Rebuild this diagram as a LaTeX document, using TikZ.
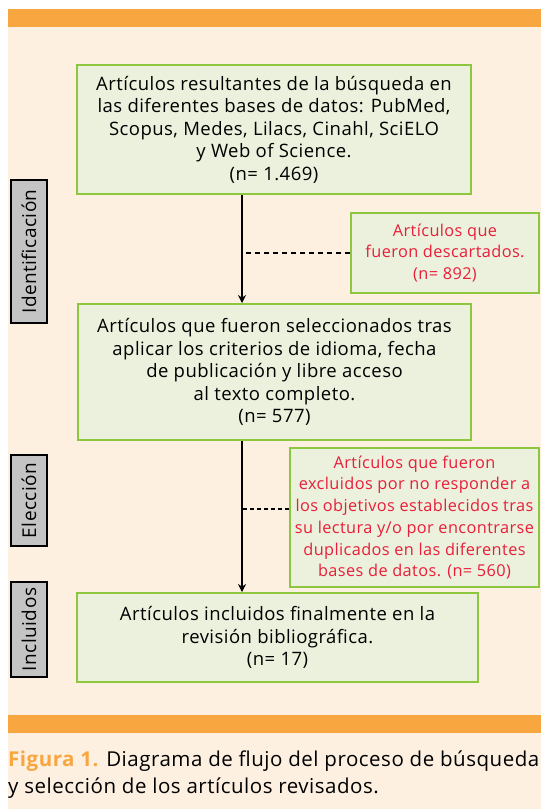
\documentclass[tikz,border=0pt]{standalone}
\usepackage{fontspec}
\setmainfont[LetterSpace=2.5]{Open Sans}
\usetikzlibrary{arrows.meta}

\definecolor{barorange}{RGB}{248,166,64}
\definecolor{panelcream}{RGB}{253,240,225}
\definecolor{boxgreen}{RGB}{141,198,63}
\definecolor{boxfill}{RGB}{235,241,220}
\definecolor{notered}{RGB}{232,30,58}
\definecolor{stagegray}{RGB}{196,196,196}

\tikzset{
  greenbox/.style={draw=boxgreen, line width=2pt, fill=boxfill, align=center, inner sep=0pt,
    font=\fontsize{18.5}{22.5}\selectfont},
  redbox/.style={greenbox, text=notered, font=\fontsize{16.3}{21.7}\selectfont},
  stagebox/.style={draw=black, line width=1.5pt, fill=stagegray, rotate=90, inner sep=0pt,
    minimum height=36pt, font=\fontsize{19}{20}\selectfont},
  flow/.style={line width=1.3pt, -{Stealth[length=8pt,width=8pt]}},
  dropline/.style={line width=1.4pt, dash pattern=on 5pt off 4pt},
}

\begin{document}
\begin{tikzpicture}[x=1pt,y=-1pt]
        \useasboundingbox (0,0) rectangle (541,809);
        \fill[white](0,0) rectangle (541,809);
        \fill[panelcream](8,9) rectangle (541,809);
        \fill[barorange](8,9) rectangle (541,27);
        \fill[barorange](8,715) rectangle (541,733);

        \node[greenbox, minimum width=394pt, minimum height=129pt] (found) at (274,129.5)
          {Artículos resultantes de la búsqueda en\\ las diferentes bases de datos: PubMed,\\ Scopus, Medes, Lilacs, Cinahl, SciELO\\ y Web of Science.\\ (n= 1.469)};
        \node[greenbox, minimum width=393pt, minimum height=136pt] (selected) at (274.5,372)
          {Artículos que fueron seleccionados tras\\ aplicar los criterios de idioma, fecha\\ de publicación y libre acceso\\ al texto completo.\\ (n= 577)};
        \node[greenbox, minimum width=401pt, minimum height=89pt] (included) at (277.5,637.5)
          {Artículos incluidos finalmente en la\\ revisión bibliográfica.\\ (n= 17)};

        \node[redbox, minimum width=188pt, minimum height=80pt] (discarded) at (445,253)
          {Artículos que\\ fueron descartados.\\ (n= 892)};
        \node[redbox, minimum width=249pt, minimum height=139pt] (excluded) at (414.5,517.5)
          {Artículos que fueron\\ excluidos por no responder a\\ los objetivos establecidos tras\\ su lectura y/o por encontrarse\\ duplicados en las diferentes\\ bases de datos. (n= 560)};

        \node[stagebox, minimum width=143pt] (ident) at (29,251.5) {Identificación};
        \node[stagebox, minimum width=91pt] (elec) at (29,500.5) {Elección};
        \node[stagebox, minimum width=95pt] (incl) at (29,629.5) {Incluidos};

        \coordinate (spine) at (242,0);
        \coordinate (tap) at (0,509);
        \draw[flow](found.south -| spine)--(selected.north -| spine);
        \draw[flow](selected.south -| spine)--(included.north -| spine);
        \draw[dropline](discarded.west)--(discarded.west -| spine);
        \draw[dropline, dash pattern=on 4pt off 3pt](excluded.west |- tap)--(spine |- tap);

        \node[anchor=base west, inner sep=0pt, font=\fontsize{20.5}{27}\selectfont] (caption1) at (8,766)
          {\textcolor{barorange}{\bfseries Figura 1.} Diagrama de flujo del proceso de búsqueda};
        \node[anchor=base west, inner sep=0pt, font=\fontsize{20.5}{27}\selectfont] (caption2) at (8,793)
          {y selección de los artículos revisados.};
    \end{tikzpicture}
\end{document}
